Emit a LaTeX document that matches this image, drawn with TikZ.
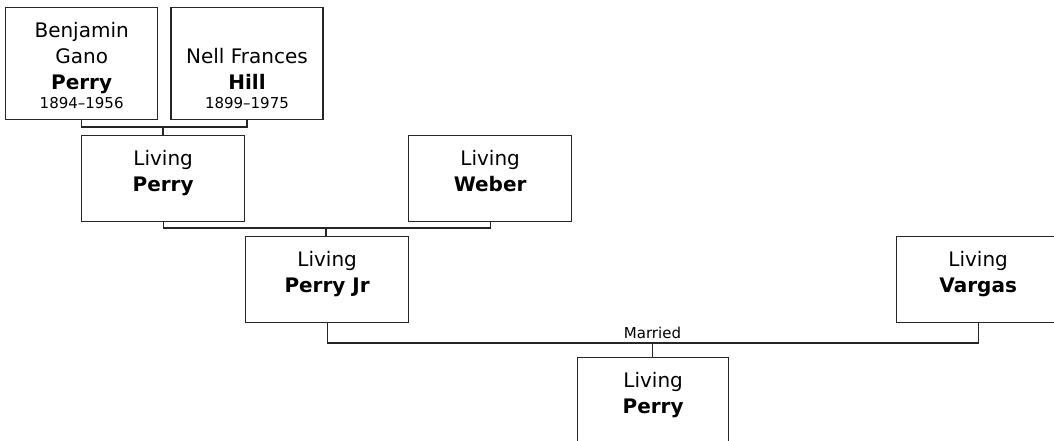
\documentclass[tikz,border=0pt]{standalone}
\usepackage{fontspec}
\setmainfont{DejaVu Sans}
\usetikzlibrary{positioning}

\newcommand{\kidcard}[3][163pt]{\parbox[c][86pt][b]{#1}{\centering #2\\\textbf{#3}\strut\par\vspace{22.2pt}}}
\newcommand{\eldercard}[3]{\parbox[c][112pt][b]{152pt}{\centering #1\\\textbf{#2}\par{\fontsize{15}{19}\selectfont #3\par}\vspace{11pt}}}

\begin{document}
\begin{tikzpicture}[
  x=1pt,y=-1pt,
  card/.style={draw=black!85,line width=1.3pt,inner sep=0pt,anchor=north west,font=\fontsize{20}{26}\selectfont},
  link/.style={draw=black!85,line width=1.3pt},
  note/.style={font=\fontsize{15}{18}\selectfont,inner sep=1pt}
]
\clip (0,0) rectangle (1054,441);
% Grandparents
\node[card] (ben) at (5,7) {\eldercard{Benjamin\\Gano}{Perry}{1894--1956}};
\node[card,right=12pt of ben] (nell) {\eldercard{Nell Frances}{Hill}{1899--1975}};
% Parents
\node[card] (lp) at (81,135) {\kidcard{Living}{Perry}};
\node[card] (web) at (408,135) {\kidcard{Living}{Weber}};
% Couple
\node[card] (pjr) at (245,236) {\kidcard{Living}{Perry Jr}};
\node[card] (var) at (896,236) {\kidcard{Living}{Vargas}};
% Child
\node[card] (kid) at (577,357) {\kidcard[151pt]{Living}{Perry}};

\coordinate (j1) at (163,127);
\coordinate (j2) at (326,228);
\coordinate (j3) at (652.5,343);
\draw[link] (ben.south) |- (j1) -| (nell.south);
\draw[link] (j1) -- (j1 |- lp.north);
\draw[link] (lp.south) |- (j2) -| (web.south);
\draw[link] (j2) -- (j2 |- pjr.north);
\draw[link] (pjr.south) |- (j3) -| (var.south);
\draw[link] (j3) -- (j3 |- kid.north);
\node[note,above=3.5pt of j3] (wed) {Married};
\end{tikzpicture}
\end{document}
